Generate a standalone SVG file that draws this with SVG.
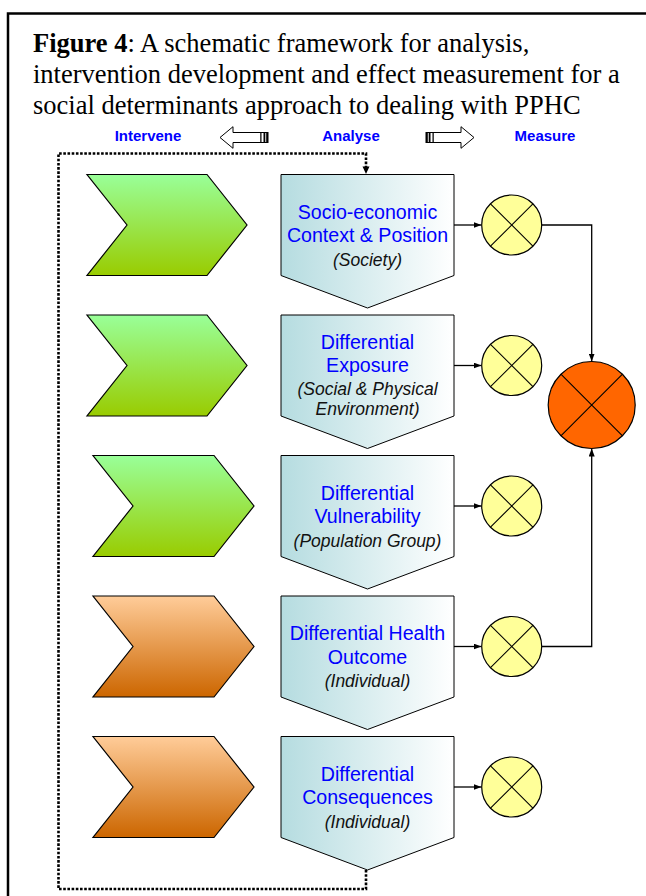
<svg xmlns="http://www.w3.org/2000/svg" width="646" height="896" viewBox="0 0 646 896">
<style>
.title{font-family:"Liberation Serif","Times New Roman",serif;font-size:26.5px;fill:#000}
.hdr{font-family:"Liberation Sans",Arial,sans-serif;font-size:15px;font-weight:bold;fill:#0000ff;text-anchor:middle}
.lbl{font-family:"Liberation Sans",Arial,sans-serif;font-size:19.6px;fill:#0000ff;text-anchor:middle}
.sub{font-family:"Liberation Sans",Arial,sans-serif;font-size:17.5px;font-style:italic;fill:#111;text-anchor:middle}
.pent{fill:url(#gPent);stroke:#000;stroke-width:1}
.chevG{fill:url(#gGreen);stroke:#000;stroke-width:1.2}
.chevO{fill:url(#gOrange);stroke:#000;stroke-width:1.2}
.sm{fill:#ffff99;stroke:#000;stroke-width:1.2}
.big{fill:#ff6600;stroke:#000;stroke-width:1.2}
.x{stroke:#000;stroke-width:1.1;fill:none}
.conn{stroke:#000;stroke-width:1.3;fill:none}
.dot{stroke:#000;stroke-width:2.6;fill:none;stroke-dasharray:2.6 1.6}
.harrow{fill:#fff;stroke:#000;stroke-width:1}
</style>
<defs>
<linearGradient id="gPent" x1="0" y1="0" x2="1" y2="0">
<stop offset="0" stop-color="#b5dce0"/>
<stop offset="1" stop-color="#ffffff"/>
</linearGradient>
<linearGradient id="gGreen" x1="0" y1="0" x2="0" y2="1">
<stop offset="0" stop-color="#99ff99"/>
<stop offset="1" stop-color="#99cc00"/>
</linearGradient>
<linearGradient id="gOrange" x1="0" y1="0" x2="0" y2="1">
<stop offset="0" stop-color="#ffcc99"/>
<stop offset="1" stop-color="#cc6600"/>
</linearGradient>
<marker id="arr" viewBox="0 0 8 6" refX="8" refY="3" markerWidth="8" markerHeight="6" markerUnits="userSpaceOnUse" orient="auto">
<path d="M0,0 L8,3 L0,6 Z" fill="#000"/>
</marker>
</defs>

<rect x="0" y="0" width="646" height="896" fill="#fff"/>
<path d="M8,896 V13.5 H646" fill="none" stroke="#000" stroke-width="2.5"/>

<g id="title">
<text class="title" x="33" y="52"><tspan font-weight="bold">Figure 4</tspan>: A schematic framework for analysis,</text>
<text class="title" x="33" y="83">intervention development and effect measurement for a</text>
<text class="title" x="33" y="114">social determinants approach to dealing with PPHC</text>
</g>

<g id="header">
<text class="hdr" x="148" y="141">Intervene</text>
<text class="hdr" x="351" y="141">Analyse</text>
<text class="hdr" x="545" y="141">Measure</text>
<g id="arrow-left">
<path class="harrow" d="M220,137.5 L233,126.7 V132.5 H261 V142.5 H233 V148.3 Z"/>
<rect x="261" y="132.5" width="7" height="10" fill="#fff" stroke="#000" stroke-width="1"/>
<rect x="263.5" y="132.5" width="1.8" height="10" fill="#000"/>
<rect x="266.2" y="132.5" width="1.8" height="10" fill="#000"/>
</g>
<g id="arrow-right">
<path class="harrow" d="M474,137.5 L461,126.7 V132.5 H433 V142.5 H461 V148.3 Z"/>
<rect x="426" y="132.5" width="7" height="10" fill="#fff" stroke="#000" stroke-width="1"/>
<rect x="426" y="132.5" width="1.8" height="10" fill="#000"/>
<rect x="428.7" y="132.5" width="1.8" height="10" fill="#000"/>
</g>
</g>

<g id="connectors">
<path class="dot" d="M366,870 V889 H58.5 V153.5 H366 V168"/>
<path d="M362.5,166.5 L366,174 L369.5,166.5 Z" fill="#000"/>
<path class="conn" d="M454,225 H481.5" marker-end="url(#arr)"/>
<path class="conn" d="M454,365.5 H481.5" marker-end="url(#arr)"/>
<path class="conn" d="M454,506 H481.5" marker-end="url(#arr)"/>
<path class="conn" d="M454,646.5 H481.5" marker-end="url(#arr)"/>
<path class="conn" d="M454,787 H481.5" marker-end="url(#arr)"/>
<path class="conn" d="M541.7,225 H591.7 V361.5" marker-end="url(#arr)"/>
<path class="conn" d="M541.7,646.5 H591.7 V448.5" marker-end="url(#arr)"/>
</g>

<g id="intervene-1"><path class="chevG" d="M87,174.5 H207 L247,225 L207,275.5 H87 L127,225 Z"/></g>
<g id="intervene-2"><path class="chevG" d="M87,315 H207 L247,365.5 L207,416 H87 L127,365.5 Z"/></g>
<g id="intervene-3"><path class="chevG" d="M93,455.5 H214 L254,506 L214,556.5 H93 L133,506 Z"/></g>
<g id="intervene-4"><path class="chevO" d="M93,596 H214 L254,646.5 L214,697 H93 L133,646.5 Z"/></g>
<g id="intervene-5"><path class="chevO" d="M93,736.5 H214 L254,787 L214,837.5 H93 L133,787 Z"/></g>

<g id="analyse-1">
<path class="pent" d="M281,174.5 H454 V275.5 L367.5,308 L281,275.5 Z"/>
<text class="lbl" x="367.5" y="218.5">Socio-economic</text>
<text class="lbl" x="367.5" y="242">Context &amp; Position</text>
<text class="sub" x="367.5" y="265.5">(Society)</text>
</g>
<g id="analyse-2">
<path class="pent" d="M281,315 H454 V416 L367.5,448.5 L281,416 Z"/>
<text class="lbl" x="367.5" y="348.5">Differential</text>
<text class="lbl" x="367.5" y="372">Exposure</text>
<text class="sub" x="367.5" y="395">(Social &amp; Physical</text>
<text class="sub" x="367.5" y="415">Environment)</text>
</g>
<g id="analyse-3">
<path class="pent" d="M281,455.5 H454 V556.5 L367.5,589 L281,556.5 Z"/>
<text class="lbl" x="367.5" y="499.5">Differential</text>
<text class="lbl" x="367.5" y="523">Vulnerability</text>
<text class="sub" x="367.5" y="546.5">(Population Group)</text>
</g>
<g id="analyse-4">
<path class="pent" d="M281,596 H454 V697 L367.5,729.5 L281,697 Z"/>
<text class="lbl" x="367.5" y="640">Differential Health</text>
<text class="lbl" x="367.5" y="663.5">Outcome</text>
<text class="sub" x="367.5" y="687">(Individual)</text>
</g>
<g id="analyse-5">
<path class="pent" d="M281,736.5 H454 V837.5 L367.5,870 L281,837.5 Z"/>
<text class="lbl" x="367.5" y="780.5">Differential</text>
<text class="lbl" x="367.5" y="804">Consequences</text>
<text class="sub" x="367.5" y="827.5">(Individual)</text>
</g>

<g id="measure-1"><circle class="sm" cx="511.7" cy="225" r="30"/><path class="x" d="M490.5,203.8 L532.9,246.2 M532.9,203.8 L490.5,246.2"/></g>
<g id="measure-2"><circle class="sm" cx="511.7" cy="365.5" r="30"/><path class="x" d="M490.5,344.3 L532.9,386.7 M532.9,344.3 L490.5,386.7"/></g>
<g id="measure-3"><circle class="sm" cx="511.7" cy="506" r="30"/><path class="x" d="M490.5,484.8 L532.9,527.2 M532.9,484.8 L490.5,527.2"/></g>
<g id="measure-4"><circle class="sm" cx="511.7" cy="646.5" r="30"/><path class="x" d="M490.5,625.3 L532.9,667.7 M532.9,625.3 L490.5,667.7"/></g>
<g id="measure-5"><circle class="sm" cx="511.7" cy="787" r="30"/><path class="x" d="M490.5,765.8 L532.9,808.2 M532.9,765.8 L490.5,808.2"/></g>
<g id="measure-total"><circle class="big" cx="591.7" cy="405" r="43.5"/><path class="x" d="M560.9,374.2 L622.5,435.8 M622.5,374.2 L560.9,435.8"/></g>
</svg>
